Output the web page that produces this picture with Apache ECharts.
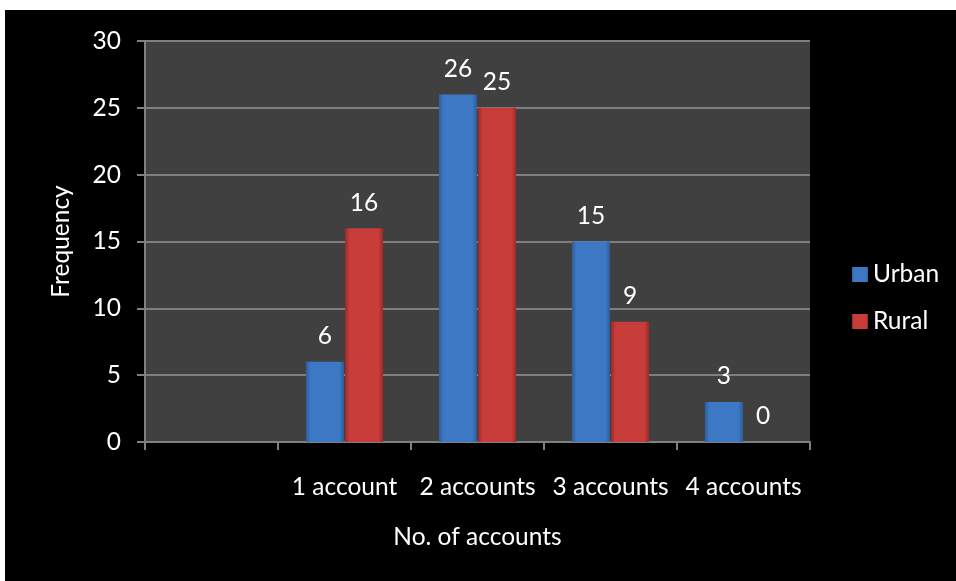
<!DOCTYPE html>
<html>
<head>
<meta charset="utf-8">
<script src="https://cdn.jsdelivr.net/npm/echarts@6/dist/echarts.min.js"></script>
<style>
  html, body { margin: 0; padding: 0; background: #ffffff; }
  #chart { position: absolute; left: 5px; top: 10px; width: 951px; height: 571px; background: #000000; }
</style>
</head>
<body>
<div id="chart"></div>
<script>
// Number of bank accounts held, by area
const categories = ['', '1 account', '2 accounts', '3 accounts', '4 accounts'];
const urbanValues = [null, 6, 26, 15, 3];
const ruralValues = [null, 16, 25, 9, 0];
const seriesNames = ['Urban', 'Rural'];

const FONT = 'Lato, "Open Sans", sans-serif';
const FS = 24.5;

function barFill(edge, mid) {
  return new echarts.graphic.LinearGradient(0, 0, 1, 0, [
    { offset: 0, color: edge },
    { offset: 0.12, color: mid },
    { offset: 0.88, color: mid },
    { offset: 1, color: edge }
  ]);
}

const chart = echarts.init(document.getElementById('chart'), null, { renderer: 'canvas' });

const labelStyle = {
  show: true,
  position: 'top',
  distance: 13,
  color: '#ffffff',
  fontFamily: FONT,
  fontSize: FS
};

chart.setOption({
  backgroundColor: '#000000',
  animation: false,
  textStyle: { fontFamily: FONT },
  grid: {
    left: 140,
    top: 31,
    right: 146,
    bottom: 139,
    show: true,
    backgroundColor: '#404040',
    borderWidth: 0
  },
  legend: {
    orient: 'vertical',
    left: 842,
    top: 247,
    itemWidth: 16,
    itemHeight: 15,
    itemGap: 22,
    icon: 'rect',
    textStyle: { color: '#ffffff', fontSize: FS, fontFamily: FONT },
    data: seriesNames
  },
  xAxis: {
    type: 'category',
    data: categories,
    name: 'No. of accounts',
    nameLocation: 'middle',
    nameGap: 83,
    nameTextStyle: { color: '#ffffff', fontSize: FS, fontFamily: FONT },
    axisLine: { lineStyle: { color: '#808080', width: 2 } },
    axisTick: { show: true, length: 8, alignWithLabel: false, lineStyle: { color: '#808080', width: 2 } },
    axisLabel: { color: '#ffffff', fontSize: FS, fontFamily: FONT, margin: 33, interval: 0 },
    splitLine: { show: false }
  },
  yAxis: {
    type: 'value',
    min: 0,
    max: 30,
    interval: 5,
    name: 'Frequency',
    nameLocation: 'middle',
    nameGap: 71,
    nameRotate: 90,
    nameTextStyle: { color: '#ffffff', fontSize: FS, fontFamily: FONT },
    axisLine: { show: true, lineStyle: { color: '#808080', width: 2 } },
    axisTick: { show: true, length: 8, lineStyle: { color: '#808080', width: 2 } },
    axisLabel: { color: '#ffffff', fontSize: FS, fontFamily: FONT, margin: 24 },
    splitLine: { show: true, lineStyle: { color: '#7f7f7f', width: 2 } }
  },
  series: [
    {
      name: seriesNames[0],
      type: 'bar',
      data: urbanValues,
      barWidth: 38,
      barGap: '3%',
      itemStyle: { color: barFill('#2c5e9c', '#3d78c4') },
      label: labelStyle
    },
    {
      name: seriesNames[1],
      type: 'bar',
      data: ruralValues,
      barWidth: 38,
      itemStyle: { color: barFill('#9a2a28', '#c83c3a') },
      label: labelStyle
    }
  ]
});
</script>
</body>
</html>
